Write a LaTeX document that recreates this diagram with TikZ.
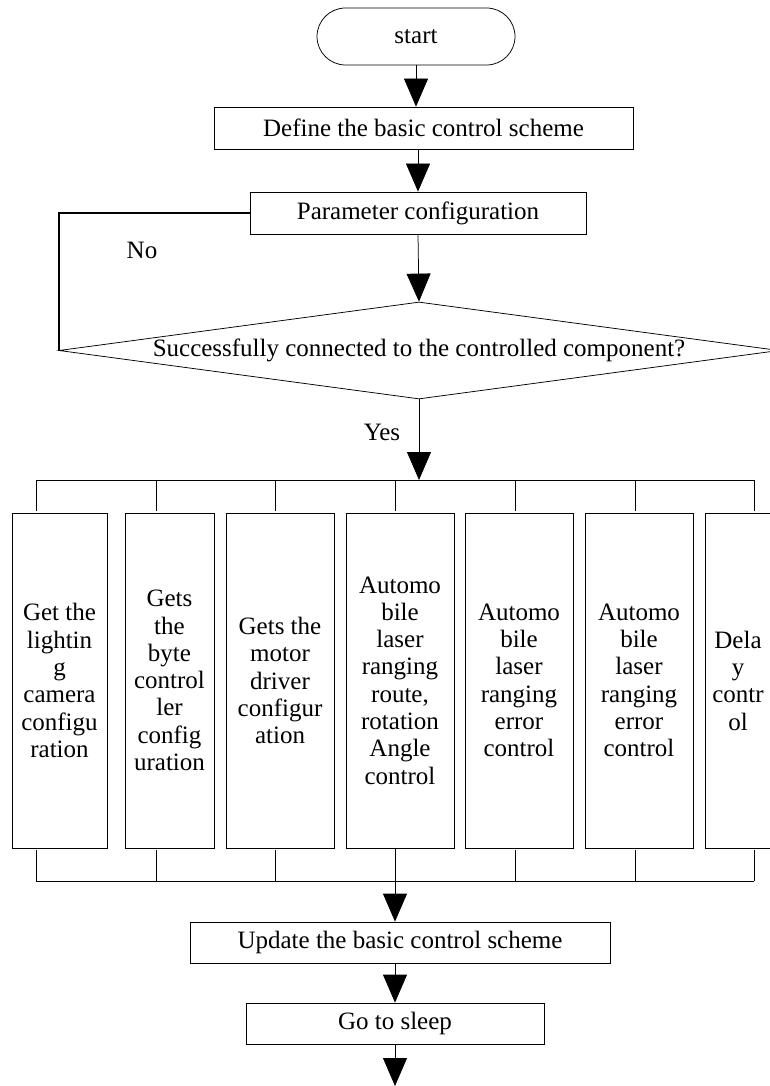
\documentclass[tikz,border=0pt]{standalone}
\usepackage{fontspec}
\setmainfont{Liberation Serif}
\usetikzlibrary{shapes.geometric,shapes.misc,arrows.meta}

\begin{document}
\begin{tikzpicture}[x=1pt,y=1pt,yscale=-1,xscale=1,
  every node/.style={font=\fontsize{25}{27.3}\selectfont},
  term/.style={draw,line width=0.75pt,rounded rectangle,inner sep=0pt,minimum width=198pt,minimum height=57pt},
  procbox/.style={draw,line width=0.75pt,rectangle,inner sep=0pt,minimum height=42pt},
  decision/.style={draw,line width=0.75pt,diamond,aspect=7.4,inner sep=0pt,minimum width=720pt,minimum height=97pt},
  colbox/.style={draw,line width=0.75pt,rectangle,align=center,inner sep=0pt,minimum height=335pt},
  arr/.style={line width=0.75pt,-{Triangle[length=28pt,width=24pt]}},
  wire/.style={line width=0.75pt}]
\useasboundingbox (0,0) rectangle (769,1086);

% Terminal
\node [term] (start) at (416,36.5) {start};
% Process boxes
\node [procbox,minimum width=419pt] (def) at (423.5,128) {Define the basic control scheme};
\node [procbox,minimum width=336pt] (par) at (418,213) {Parameter configuration};
% Decision
\node [decision] (dec) at (419,350.5) {Successfully connected to the controlled component?};

% Text Node
\node (no) at (142,250) {No};
% Text Node
\node (yes) at (382,432) {Yes};

% Column boxes
\node [colbox,minimum width=95pt] (b1) at (59.5,680.5) {Get the\\lightin\\g\\camera\\configu\\ration};
\node [colbox,minimum width=89pt] (b2) at (169.5,680.5) {Gets\\the\\byte\\control\\ler\\config\\uration};
\node [colbox,minimum width=108pt] (b3) at (280,680.5) {Gets the\\motor\\driver\\configur\\ation};
\node [colbox,minimum width=108pt] (b4) at (400,680.5) {Automo\\bile\\laser\\ranging\\route,\\rotation\\Angle\\control};
\node [colbox,minimum width=108pt] (b5) at (519,680.5) {Automo\\bile\\laser\\ranging\\error\\control};
\node [colbox,minimum width=108pt] (b6) at (639,680.5) {Automo\\bile\\laser\\ranging\\error\\control};
\node [colbox,minimum width=66pt] (b7) at (738,680.5) {Dela\\y\\contr\\ol};

% Lower boxes
\node [procbox,minimum width=420pt,minimum height=41pt] (upd) at (400,942.5) {Update the basic control scheme};
\node [procbox,minimum width=298pt,minimum height=41pt] (slp) at (395,1023.5) {Go to sleep};

% Bus taps
\coordinate (tt1) at (36,480);
\coordinate (tt2) at (156,480);
\coordinate (tt3) at (275,480);
\coordinate (tt4) at (395,480);
\coordinate (tt5) at (515,480);
\coordinate (tt6) at (635,480);
\coordinate (tt7) at (754,480);
\coordinate (bt1) at (36,881);
\coordinate (bt2) at (156,881);
\coordinate (bt3) at (275,881);
\coordinate (bt4) at (395,881);
\coordinate (bt5) at (515,881);
\coordinate (bt6) at (635,881);
\coordinate (bt7) at (754,881);
\coordinate (fin) at (395,1086);

% Main flow
\draw [arr] (start.south) -- (start.south |- def.north);
\draw [arr] (par.north |- def.south) -- (par.north);
\draw [arr] (par.south) -- (dec.north);
\draw [arr] (dec.south) -- (dec.south |- tt1);
% No branch
\draw [line width=1.8pt] (par.west) -| (dec.west);

% Top bus
\draw [wire] (tt1) -- (tt7);
\draw [wire,shorten >=2pt] (tt1) -- (tt1 |- b1.north);
\draw [wire,shorten >=2pt] (tt2) -- (tt2 |- b2.north);
\draw [wire,shorten >=2pt] (tt3) -- (tt3 |- b3.north);
\draw [wire,shorten >=2pt] (tt4) -- (tt4 |- b4.north);
\draw [wire,shorten >=2pt] (tt5) -- (tt5 |- b5.north);
\draw [wire,shorten >=2pt] (tt6) -- (tt6 |- b6.north);
\draw [wire,shorten >=2pt] (tt7) -- (tt7 |- b7.north);

% Bottom bus
\draw [wire] (bt1) -- (bt7);
\draw [wire,shorten >=2pt] (bt1) -- (bt1 |- b1.south);
\draw [wire,shorten >=2pt] (bt2) -- (bt2 |- b2.south);
\draw [wire,shorten >=2pt] (bt3) -- (bt3 |- b3.south);
\draw [wire] (bt4) -- (bt4 |- b4.south);
\draw [wire,shorten >=2pt] (bt5) -- (bt5 |- b5.south);
\draw [wire,shorten >=2pt] (bt6) -- (bt6 |- b6.south);
\draw [wire,shorten >=2pt] (bt7) -- (bt7 |- b7.south);

% Lower flow
\draw [arr] (bt4) -- (bt4 |- upd.north);
\draw [arr] (bt4 |- upd.south) -- (slp.north);
\draw [arr] (slp.south) -- (fin);

\end{tikzpicture}
\end{document}
